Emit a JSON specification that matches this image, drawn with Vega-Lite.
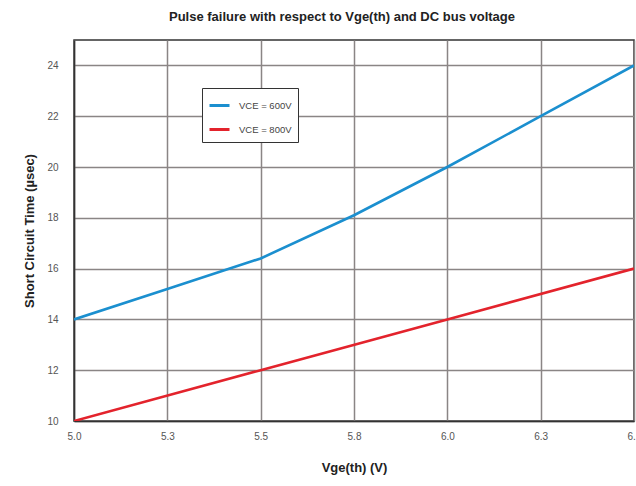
{
  "$schema": "https://vega.github.io/schema/vega-lite/v6.json",
  "width": 560,
  "height": 381,
  "autosize": {"type": "none"},
  "padding": {"left": 74, "top": 40, "right": 2, "bottom": 65},
  "background": "white",
  "title": {
    "text": "Pulse failure with respect to Vge(th) and DC bus voltage",
    "font": "Liberation Sans Narrow, Liberation Sans, sans-serif",
    "fontSize": 13,
    "fontWeight": "bold",
    "color": "#222",
    "anchor": "middle",
    "offset": 16,
    "dx": -12
  },
  "config": {
    "view": {"stroke": "#333", "strokeWidth": 1.5},
    "font": "Liberation Sans Narrow, Liberation Sans, sans-serif"
  },
  "data": {
    "values": [
      {"series": "VCE = 600V", "v": 5.0, "t": 14.0},
      {"series": "VCE = 600V", "v": 5.25, "t": 15.2},
      {"series": "VCE = 600V", "v": 5.5, "t": 16.4},
      {"series": "VCE = 600V", "v": 5.75, "t": 18.1},
      {"series": "VCE = 600V", "v": 6.0, "t": 20.0},
      {"series": "VCE = 600V", "v": 6.25, "t": 22.0},
      {"series": "VCE = 600V", "v": 6.5, "t": 24.0},
      {"series": "VCE = 800V", "v": 5.0, "t": 10.0},
      {"series": "VCE = 800V", "v": 5.5, "t": 12.0},
      {"series": "VCE = 800V", "v": 6.0, "t": 14.0},
      {"series": "VCE = 800V", "v": 6.5, "t": 16.0}
    ]
  },
  "mark": {"type": "line", "strokeWidth": 2.6, "clip": true},
  "encoding": {
    "x": {
      "field": "v",
      "type": "quantitative",
      "scale": {"domain": [5.0, 6.5], "nice": false, "zero": false},
      "axis": {
        "title": "Vge(th) (V)",
        "titleFontSize": 13,
        "titleFontWeight": "bold",
        "titleColor": "#222",
        "titlePadding": 20,
        "values": [5.0, 5.25, 5.5, 5.75, 6.0, 6.25, 6.5],
        "format": ".1f",
        "labelFontSize": 10,
        "labelColor": "#555",
        "labelPadding": 10,
        "labelFlush": false,
        "ticks": false,
        "domainColor": "#333",
        "domainWidth": 1.5,
        "grid": true,
        "gridColor": "#8a8585",
        "gridWidth": 1.5
      }
    },
    "y": {
      "field": "t",
      "type": "quantitative",
      "scale": {"domain": [10, 25], "nice": false, "zero": false},
      "axis": {
        "title": "Short Circuit Time (µsec)",
        "titleFontSize": 13,
        "titleFontWeight": "bold",
        "titleColor": "#222",
        "titlePadding": 10,
        "values": [10, 12, 14, 16, 18, 20, 22, 24],
        "labelFontSize": 10,
        "labelColor": "#555",
        "labelPadding": 16,
        "ticks": false,
        "domainColor": "#333",
        "domainWidth": 1.5,
        "grid": true,
        "gridColor": "#8a8585",
        "gridWidth": 1.5
      }
    },
    "color": {
      "field": "series",
      "type": "nominal",
      "scale": {"domain": ["VCE = 600V", "VCE = 800V"], "range": ["#1b8fcf", "#e3232c"]},
      "legend": {
        "title": null,
        "orient": "none",
        "legendX": 128,
        "legendY": 48,
        "symbolType": "stroke",
        "symbolSize": 400,
        "symbolStrokeWidth": 3,
        "labelFontSize": 9.5,
        "labelColor": "#444",
        "labelOffset": 8,
        "rowPadding": 6,
        "padding": 6,
        "strokeColor": "#333",
        "fillColor": "white",
        "labelLimit": 200
      }
    }
  }
}
